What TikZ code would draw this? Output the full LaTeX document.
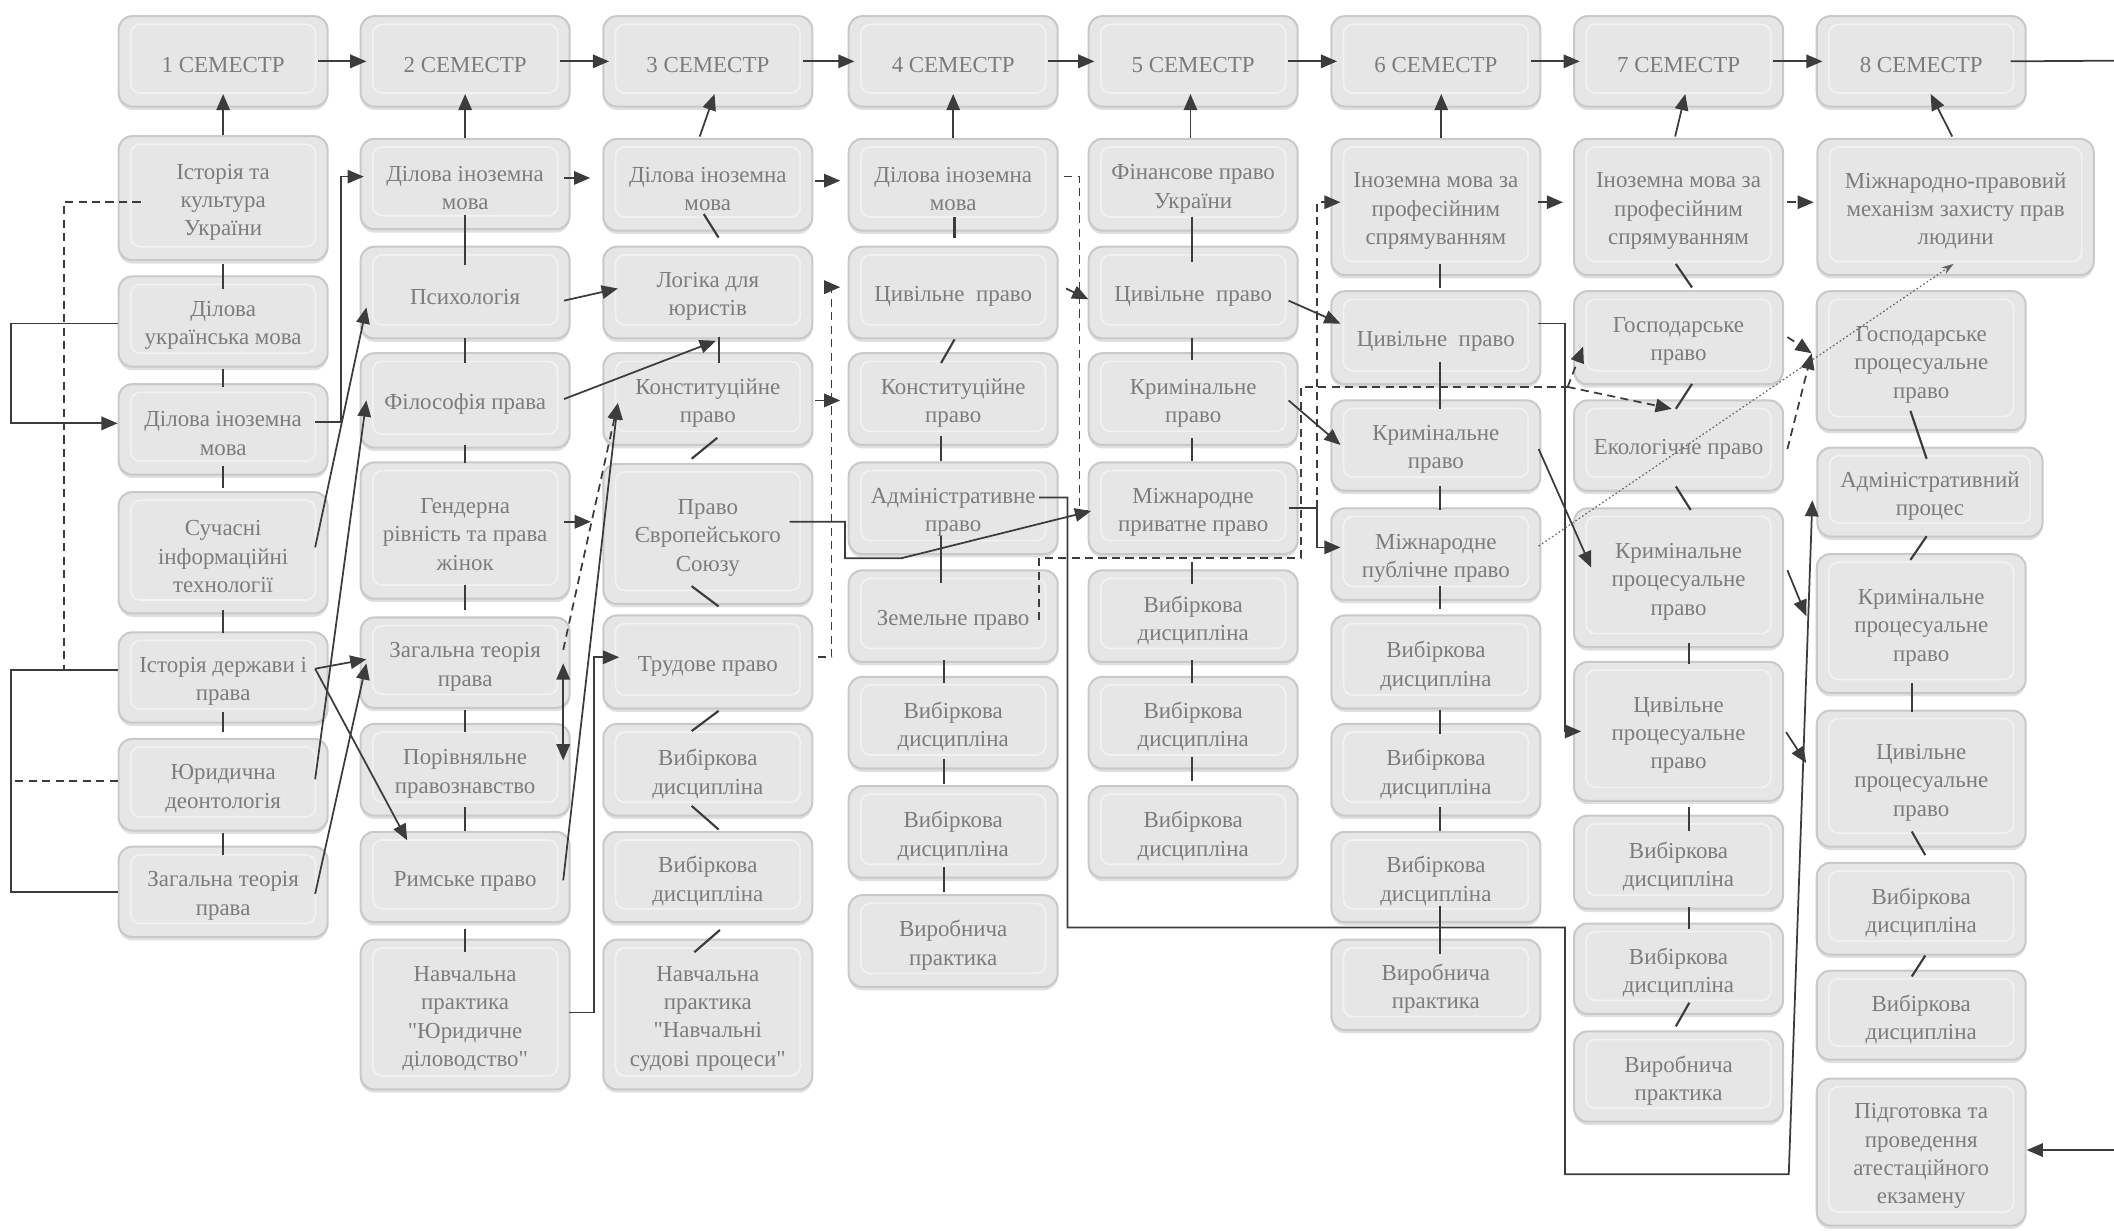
\documentclass[tikz,border=0pt]{standalone}
\usepackage{fontspec}
\setmainfont{Liberation Serif}
\newfontfamily\qfont{Liberation Serif}
\usetikzlibrary{arrows.meta,calc,shadows}
\definecolor{boxfill}{HTML}{E6E6E6}
\definecolor{boxline}{HTML}{C9C9C9}
\definecolor{txt}{HTML}{7C7C7C}
\definecolor{lnc}{HTML}{3C3C3C}
\newcommand\bxfont{\fontsize{17}{21}\selectfont}
\newcommand\qq{{\qfont"}}
\newcommand\bxn[6][]{\node[box,minimum height=#5pt,#1] (#2) at (#3,#4) {};
  \node[boxtext] at ($(#2.center)+(0,3)$) {#6};}
\newcommand\lnk[6]{\draw[lk] ($(#1)+(#2,#3)$) -- ($(#4)+(#5,#6)$);}
\begin{document}
\begin{tikzpicture}[x=1pt,y=-1pt,
  box/.style={draw=boxline, line width=1.5pt, fill=boxfill, rounded corners=10pt,
    minimum width=155pt, inner sep=0pt,
    drop shadow={shadow xshift=0pt, shadow yshift=-2.5pt, fill=black, opacity=0.12},
    path picture={\draw[white,opacity=0.5,line width=1.2pt,rounded corners=7pt]
      ($(path picture bounding box.north west)+(9,6)$) rectangle
      ($(path picture bounding box.south east)+(-9,-10)$);}},
  boxtext/.style={align=center, text=txt, font=\bxfont, inner sep=0pt},
  ln/.style={draw=lnc, line width=1.3pt},
  lk/.style={draw=lnc, line width=1.6pt},
  arr/.style={ln, -{Triangle[length=12pt,width=10pt]}},
  darr/.style={arr, dash pattern=on 6pt off 4pt},
  dln/.style={ln, dash pattern=on 6pt off 4pt},
  dotarr/.style={draw=lnc!80, line width=0.9pt, dash pattern=on 1.2pt off 1.8pt, -{Stealth[length=9pt,width=6pt]}},
  dblarr/.style={ln, {Triangle[length=12pt,width=10pt]}-{Triangle[length=12pt,width=10pt]}}
]
\useasboundingbox (0,0) rectangle (1568,913);
% headers
\bxn{s1}{165.5}{45.5}{67}{1 СЕМЕСТР}
\bxn{s2}{345}{45.5}{67}{2 СЕМЕСТР}
\bxn{s3}{525}{45.5}{67}{3 СЕМЕСТР}
\bxn{s4}{707}{45.5}{67}{4 СЕМЕСТР}
\bxn{s5}{885}{45.5}{67}{5 СЕМЕСТР}
\bxn{s6}{1065}{45.5}{67}{6 СЕМЕСТР}
\bxn{s7}{1245}{45.5}{67}{7 СЕМЕСТР}
\bxn{s8}{1425}{45.5}{67}{8 СЕМЕСТР}
% column 1
\bxn{n11}{165.5}{147}{92}{Історія та\\культура\\України}
\bxn{n12}{165.5}{238.5}{67}{Ділова\\українська мова}
\bxn{n13}{165.5}{318.5}{67}{Ділова іноземна\\мова}
\bxn{n14}{165.5}{410}{90}{Сучасні\\інформаційні\\технології}
\bxn{n15}{165.5}{502.5}{67}{Історія держави і\\права}
\bxn{n16}{165.5}{582}{68}{Юридична\\деонтологія}
\bxn{n17}{165.5}{661.5}{67}{Загальна теорія\\права}
% column 2
\bxn{n21}{345}{136.5}{67}{Ділова іноземна\\мова}
\bxn{n22}{345}{217}{68}{Психологія}
\bxn{n23}{345}{297}{70}{Філософія права}
\bxn{n24}{345}{393.5}{101}{Гендерна\\рівність та права\\жінок}
\bxn{n25}{345}{491.5}{67}{Загальна теорія\\права}
\bxn{n26}{345}{571}{68}{Порівняльне\\правознавство}
\bxn{n27}{345}{650.5}{67}{Римське право}
\bxn{n28}{345}{752.5}{111}{Навчальна\\практика\\\qq Юридичне\\діловодство\qq}
% column 3
\bxn{n31}{525}{137}{68}{Ділова іноземна\\мова}
\bxn{n32}{525}{217}{68}{Логіка для\\юристів}
\bxn{n33}{525}{296}{68}{Конституційне\\право}
\bxn{n34}{525}{396}{104}{Право\\Європейського\\Союзу}
\bxn{n35}{525}{491}{69}{Трудове право}
\bxn{n36}{525}{571}{68}{Вибіркова\\дисципліна}
\bxn{n37}{525}{650.5}{67}{Вибіркова\\дисципліна}
\bxn{n38}{525}{752.5}{111}{Навчальна\\практика\\\qq Навчальні\\судові процеси\qq}
% column 4
\bxn{n41}{707}{137}{68}{Ділова іноземна\\мова}
\bxn{n42}{707}{217}{68}{Цивільне\enspace право}
\bxn{n43}{707}{296}{68}{Конституційне\\право}
\bxn{n44}{707}{377}{68}{Адміністративне\\право}
\bxn{n45}{707}{457}{68}{Земельне право}
\bxn{n46}{707}{536}{68}{Вибіркова\\дисципліна}
\bxn{n47}{707}{617}{68}{Вибіркова\\дисципліна}
\bxn{n48}{707}{698}{68}{Виробнича\\практика}
% column 5
\bxn{n51}{885}{137}{68}{Фінансове право\\України}
\bxn{n52}{885}{217}{68}{Цивільне\enspace право}
\bxn{n53}{885}{296}{68}{Кримінальне\\право}
\bxn{n54}{885}{377}{68}{Міжнародне\\приватне право}
\bxn{n55}{885}{457}{68}{Вибіркова\\дисципліна}
\bxn{n56}{885}{536}{68}{Вибіркова\\дисципліна}
\bxn{n57}{885}{617}{68}{Вибіркова\\дисципліна}
% column 6
\bxn{n61}{1065}{153.5}{101}{Іноземна мова за\\професійним\\спрямуванням}
\bxn{n62}{1065}{250.5}{69}{Цивільне\enspace право}
\bxn{n63}{1065}{330.5}{67}{Кримінальне\\право}
\bxn{n64}{1065}{411}{68}{Міжнародне\\публічне право}
\bxn{n65}{1065}{491}{69}{Вибіркова\\дисципліна}
\bxn{n66}{1065}{571}{68}{Вибіркова\\дисципліна}
\bxn{n67}{1065}{650.5}{67}{Вибіркова\\дисципліна}
\bxn{n68}{1065}{730.5}{67}{Виробнича\\практика}
% column 7
\bxn{n71}{1245}{153.5}{101}{Іноземна мова за\\професійним\\спрямуванням}
\bxn{n72}{1245}{250.5}{69}{Господарське\\право}
\bxn{n73}{1245}{330.5}{67}{Екологічне право}
\bxn{n74}{1245}{428.5}{103}{Кримінальне\\процесуальне\\право}
\bxn{n75}{1245}{542.5}{103}{Цивільне\\процесуальне\\право}
\bxn{n76}{1245}{639.5}{69}{Вибіркова\\дисципліна}
\bxn{n77}{1245}{718.5}{67}{Вибіркова\\дисципліна}
\bxn{n78}{1245}{798.5}{67}{Виробнича\\практика}
% column 8
\bxn[minimum width=205pt]{n81}{1450.5}{153.5}{101}{Міжнародно-правовий\\механізм захисту прав\\людини}
\bxn{n82}{1425}{267.5}{103}{Господарське\\процесуальне\\право}
\bxn[minimum width=167pt]{n83}{1431.5}{365}{66}{Адміністративний\\процес}
\bxn{n84}{1425}{462.5}{103}{Кримінальне\\процесуальне\\право}
\bxn{n85}{1425}{577.5}{101}{Цивільне\\процесуальне\\право}
\bxn{n86}{1425}{674}{68}{Вибіркова\\дисципліна}
\bxn{n87}{1425}{753}{66}{Вибіркова\\дисципліна}
\bxn{n88}{1425}{854.5}{109}{Підготовка та\\проведення\\атестаційного\\екзамену}
\coordinate (re1) at (1568,45);
\coordinate (re2) at (1568,853);

% header chain
\foreach \a/\b in {s1/s2,s2/s3,s3/s4,s4/s5,s5/s6,s6/s7,s7/s8}
  \draw[arr] ($(\a.east)+(-8,0)$) -- ($(\b.west)+(5,0)$);
\draw[ln] ($(s8.east)+(-12,0)$) -- (re1);
% column tops to headers
\draw[arr] ($(n11.north)+(0,0)$) -- ($(s1.south)+(0,-10)$);
\draw[arr] ($(n21.north)+(0,0)$) -- ($(s2.south)+(0,-10)$);
\draw[arr] ($(n31.north)+(-6,-1)$) -- ($(s3.south)+(5,-10)$);
\draw[arr] ($(n41.north)+(0,0)$) -- ($(s4.south)+(0,-10)$);
\draw[arr] ($(n51.north)+(-2,0)$) -- ($(s5.south)+(-2,-10)$);
\draw[arr] ($(n61.north)+(4,0)$) -- ($(s6.south)+(4,-10)$);
\draw[arr] ($(n71.north)+(-2.5,-1)$) -- ($(s7.south)+(5,-10)$);
\draw[arr] ($(n81.north)+(-2.5,-1)$) -- ($(s8.south)+(7,-10)$);

% short links column 1
\lnk{n11.south}{0}{2}{n12.north}{0}{10}
\lnk{n12.south}{0}{1}{n13.north}{0}{3}
\lnk{n13.south}{0}{-7}{n14.north}{0}{-2}
\lnk{n14.south}{0}{-3}{n15.north}{0}{1}
\lnk{n15.south}{0}{-9}{n16.north}{0}{-4}
\lnk{n16.south}{0}{1}{n17.north}{0}{7}
% column 2
\lnk{n21.south}{0}{-11}{n22.north}{0}{14}
\lnk{n22.south}{0}{-1}{n23.north}{0}{8}
\lnk{n23.south}{0}{-3}{n24.north}{0}{1}
\lnk{n24.south}{0}{-11}{n25.north}{0}{-5}
\lnk{n25.south}{0}{1}{n26.north}{0}{7}
\lnk{n26.south}{0}{-7}{n27.north}{0}{0}
\lnk{n27.south}{0}{4}{n28.north}{0}{10}
% column 3
\lnk{n31.south}{-3}{-13}{n32.north}{8}{-6}
\lnk{n32.south}{8}{-2}{n33.north}{8}{8}
\lnk{n33.south}{7}{-6}{n34.north}{-12}{-3}
\lnk{n34.south}{-12}{-14}{n35.north}{8}{-6}
\lnk{n35.south}{8}{1}{n36.north}{-12}{6}
\lnk{n36.south}{-12}{-8}{n37.north}{8}{-1}
\lnk{n37.south}{9}{5}{n38.north}{-10}{10}
% column 4
\lnk{n41.south}{1}{-11}{n42.north}{1}{-6}
\lnk{n42.south}{1}{0}{n43.north}{-9}{8}
\lnk{n43.south}{-9}{-7}{n44.north}{-9}{0}
\lnk{n44.south}{-9}{-14}{n45.north}{-9}{10}
\lnk{n45.south}{-7}{-2}{n46.north}{-7}{5}
\lnk{n46.south}{-7}{-8}{n47.north}{-7}{-1}
\lnk{n47.south}{-7}{-9}{n48.north}{-7}{-2}
% column 5
\lnk{n51.south}{-1}{-11}{n52.north}{-1}{12}
\lnk{n52.south}{-1}{-1}{n53.north}{-1}{6}
\lnk{n53.south}{-1}{-6}{n54.north}{-1}{0}
\lnk{n54.south}{-1}{5}{n55.north}{-1}{11}
\lnk{n55.south}{-1}{-2}{n56.north}{-1}{5}
\lnk{n56.south}{-1}{-9}{n57.north}{-1}{-3}
% column 6
\lnk{n61.south}{3}{-9}{n62.north}{3}{-2}
\lnk{n62.south}{3}{-17}{n63.north}{3}{7}
\lnk{n63.south}{3}{-4}{n64.north}{3}{2}
\lnk{n64.south}{3}{-11}{n65.north}{3}{-4}
\lnk{n65.south}{3}{0}{n66.north}{3}{8}
\lnk{n66.south}{3}{-7}{n67.north}{3}{0}
\lnk{n67.south}{3}{-13}{n68.north}{3}{11}
% column 7
\lnk{n71.south}{-2}{-9}{n72.north}{10}{-2}
\lnk{n72.south}{10}{-1}{n73.north}{-2}{7}
\lnk{n73.south}{-2}{-4}{n74.north}{9}{2}
\lnk{n74.south}{8}{-4}{n75.north}{8}{2}
\lnk{n75.south}{8}{4}{n76.north}{8}{12}
\lnk{n76.south}{8}{-2}{n77.north}{8}{5}
\lnk{n77.south}{8}{-9}{n78.north}{-2}{-3}
% column 8
\lnk{n82.south}{-8}{-15}{n83.north}{-2.5}{9}
\lnk{n83.south}{-2.5}{-1}{n84.north}{-8}{5}
\lnk{n84.south}{-7}{-8}{n85.north}{-7}{2}
\lnk{n85.south}{-7}{-12}{n86.north}{3}{-5}
\lnk{n86.south}{3}{0}{n87.north}{-7}{5}

% left side loops of column 1
\draw[arr] ($(n12.west)+(0,1.5)$) -- ++(-79,0) |- ($(n13.west)+(0,-4.5)$);
\draw[ln] ($(n15.west)+(0,-5.5)$) -- ++(-79,0) |- (n17.west);
\draw[dln] ($(n11.west)+(17,3)$) -- ++(-57,0) -- ++(0,347);
\draw[dln] ($(n16.west)+(0,-3)$) -- ++(-76,0);

% column 1 -> column 2
\draw[arr] ($(n13.east)+(-10,-5.5)$) -- ++(19,0) |- ($(n21.west)+(3,-5.5)$);
\draw[arr] ($(n14.east)+(-10,-4)$) -- ($(n22.west)+(5,11)$);
\draw[arr] ($(n16.east)+(-10,-4)$) -- ($(n23.west)+(5,0)$);
\draw[arr] ($(n15.east)+(-10,-6.5)$) -- ($(n25.west)+(5,-2.5)$);
\draw[arr] ($(n15.east)+(-10,-6.5)$) -- ($(n27.north)+(-43,7)$);
\draw[arr] ($(n17.east)+(-10,1.5)$) -- ($(n25.west)+(5,0.5)$);

% column 2 -> column 3
\draw[arr] ($(n21.east)+(-5,-4.5)$) -- ($(n31.west)+(-9,-5)$);
\draw[arr] ($(n22.east)+(-5,6)$) -- ($(n32.west)+(11.5,-3)$);
\draw[arr] ($(n23.east)+(-5,-1)$) -- ($(n32.south)+(6,1)$);
\draw[arr] ($(n24.east)+(-5,-6.5)$) -- ($(n34.west)+(-8.5,-9)$);
\draw[darr] ($(n25.east)+(-5.5,-9.5)$) -- ($(n33.west)+(11.5,3)$);
\draw[arr] ($(n27.east)+(-5.5,2.5)$) -- ($(n33.west)+(11.5,3)$);
\draw[dblarr] ($(n25.east)+(-5.5,0.5)$) -- ($(n26.east)+(-5.5,-7)$);
\draw[arr] ($(n28.east)+(-1.5,-1.5)$) -- ++(19,0) |- ($(n35.west)+(12.5,-3.5)$);

% column 3 -> column 4/5
\draw[arr] ($(n31.east)+(1.5,-3)$) -- ($(n41.west)+(-5.5,-3)$);
\draw[arr] ($(n33.east)+(1.5,1)$) -- ($(n43.west)+(-5.5,1)$);
\draw[darr] ($(n35.east)+(3.5,-3.5)$) -- ++(10,0) |- ($(n42.west)+(-5.5,-4)$);
\draw[arr] ($(n34.east)+(-17.5,-9)$) -- ++(41,0) -- ++(0,27) -- ++(42,0) -- ($(n54.west)+(2.5,2)$);

% column 4 -> column 5
\draw[dln] ($(n41.east)+(4,-6)$) -- ++(11.5,0) |- ($(n54.west)+(2.5,2)$);
\draw[arr] ($(n42.east)+(5.5,-3)$) -- ($(n52.west)+(0.5,5)$);
\draw[arr] ($(n44.east)+(-14.5,-8)$) -- ++(21,0) -- ++(0,319) -- ++(369,0) -- ++(0,183) -- ++(166,0) -- ($(n83.west)+(-3,6)$);
\draw[dln] ($(n45.east)+(-14.5,3)$) -- ++(0,-46) -- ++(194,0) -- ++(0,-127) -- ++(198,0) coordinate (dj);
\draw[darr] (dj) -- ($(n72.west)+(7.5,6.5)$);
\draw[darr] (dj) -- ($(n73.north)+(-5,7)$);

% column 5 -> column 6
\draw[arr] ($(n52.east)+(-7.5,6)$) -- ($(n62.west)+(7.5,-10.5)$);
\draw[arr] ($(n53.east)+(-7.5,1)$) -- ($(n63.west)+(7.5,-0.5)$);
\draw[arr] ($(n54.east)+(-7.5,0)$) -- ++(21,0) |- ($(n64.west)+(7.5,-5)$);
\draw[darr] ($(n54.east)+(13.5,0)$) |- ($(n61.west)+(7.5,-3.5)$);

% column 6 -> column 7/8
\draw[arr] ($(n61.east)+(-2.5,-3.5)$) -- ($(n71.west)+(-7.5,-3.5)$);
\draw[arr] ($(n62.east)+(-2.5,-10.5)$) -- ++(20,0) |- ($(n75.west)+(6,0)$);
\draw[arr] ($(n63.east)+(-2,2.5)$) -- ($(n74.west)+(13.5,-7.5)$);
\draw[dotarr] ($(n64.east)+(-2,-6)$) -- ($(n81.south)+(-1.5,-9)$);

% column 7 -> column 8
\draw[darr] ($(n71.east)+(2.5,-3.5)$) -- ($(n81.west)+(-2,-3.5)$);
\draw[darr] ($(n72.east)+(2.5,-0.5)$) -- ($(n82.west)+(-3,-5.5)$);
\draw[darr] ($(n73.east)+(2.5,2.5)$) -- ($(n82.west)+(-3,-5.5)$);
\draw[arr] ($(n74.east)+(2.5,-5.5)$) -- ($(n84.west)+(-7,-5.5)$);
\draw[arr] ($(n75.east)+(1.5,0.5)$) -- ($(n85.west)+(-7,-11.5)$);
\draw[arr] (re2) -- ($(n88.east)+(0,-1.5)$);
\end{tikzpicture}
\end{document}
